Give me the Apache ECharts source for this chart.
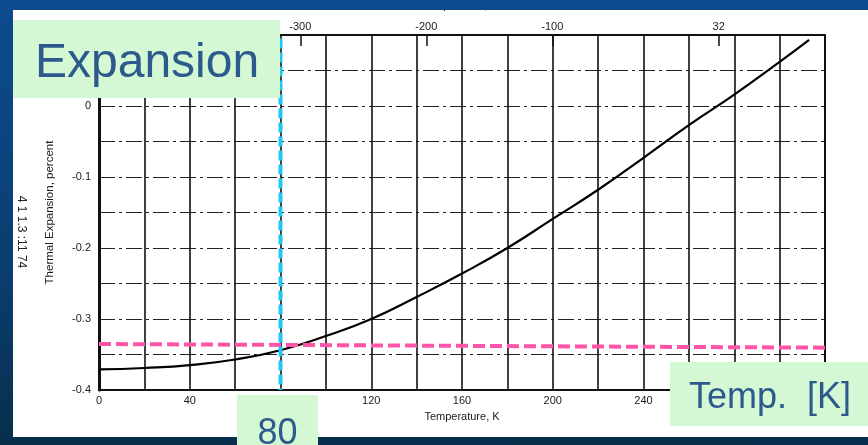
<!DOCTYPE html>
<html>
<head>
<meta charset="utf-8">
<script src="https://cdn.jsdelivr.net/npm/echarts@6/dist/echarts.min.js"></script>
<style>
  html, body { margin: 0; padding: 0; width: 868px; height: 445px; overflow: hidden; }
  body {
    background: linear-gradient(to bottom, #0d4b8f 0%, #0b4580 30%, #0a3c6c 65%, #072f4c 100%);
    position: relative;
  }
  #chart { position: absolute; left: 13px; top: 10px; width: 855px; height: 435px; }
</style>
</head>
<body>
<div id="chart"></div>
<script>
// Thermal expansion curve (percent) against temperature (K)
const tempK = [0, 20, 40, 60, 80, 100, 120, 140, 160, 180, 200, 220, 240, 260, 280, 300, 313];
const expansionPct = [-0.371, -0.369, -0.365, -0.357, -0.344, -0.324, -0.300, -0.269, -0.236, -0.200, -0.159, -0.118, -0.073, -0.027, 0.016, 0.062, 0.093];

// Tick labels
const kelvinLabels = [0, 40, 80, 120, 160, 200, 240, 280, 320];
const percentLabels = [0, -0.1, -0.2, -0.3, -0.4];
const fahrenheitLabels = [-300, -200, -100, 32];

// Highlighted marker temperature and reference expansion level
const markerK = [80, 80];
const markerPct = [0.095, -0.4];
const levelK = [0, 320];
const levelPct = [-0.3352, -0.3404];

// Annotation captions
const captionY = 'Expansion';
const captionX = 'Temp.  [K]';
const captionMarker = '80';

const kToF = k => k * 9 / 5 - 459.67;

const chart = echarts.init(document.getElementById('chart'), null, { renderer: 'canvas' });

const axisFont = { color: '#1a1a1a', fontSize: 11, fontFamily: 'Liberation Sans' };

chart.setOption({
  backgroundColor: 'transparent',
  animation: false,
  grid: {
    left: 86, top: 25, right: 43, bottom: 55,
    outerBoundsMode: 'none', containLabel: false,
    show: true, borderColor: '#111', borderWidth: 2, backgroundColor: 'transparent'
  },
  xAxis: [
    {
      type: 'value', position: 'bottom', min: 0, max: 320, interval: 20,
      axisLine: { show: true, onZero: false, lineStyle: { color: '#111', width: 2 } },
      axisTick: { show: false },
      axisLabel: Object.assign({ customValues: kelvinLabels, margin: 5 }, axisFont),
      splitLine: { show: true, lineStyle: { color: '#111', width: 1.6 } },
      name: 'Temperature, K', nameLocation: 'middle', nameGap: 21,
      nameTextStyle: { color: '#1a1a1a', fontSize: 11, fontFamily: 'Liberation Sans' }
    },
    {
      type: 'value', position: 'top', min: kToF(0), max: kToF(320),
      axisLine: { show: true, onZero: false, lineStyle: { color: '#111', width: 2 } },
      axisTick: { show: true, inside: true, length: 11, customValues: fahrenheitLabels,
                  lineStyle: { color: '#111', width: 1.5 } },
      axisLabel: Object.assign({ customValues: fahrenheitLabels, margin: 3 }, axisFont),
      splitLine: { show: false },
      name: 'Temperature, °F', nameLocation: 'middle', nameGap: 24,
      nameTextStyle: { color: '#1a1a1a', fontSize: 11, fontFamily: 'Liberation Sans' }
    }
  ],
  yAxis: {
    type: 'value', min: -0.4, max: 0.1, interval: 0.05,
    axisLine: { show: true, onZero: false, lineStyle: { color: '#111', width: 3 } },
    axisTick: { show: false },
    axisLabel: Object.assign({
      customValues: percentLabels, margin: 8,
      formatter: v => (Math.abs(v) < 1e-9 ? '0' : v.toFixed(1))
    }, axisFont),
    splitLine: { show: true, lineStyle: { color: '#222', width: 1.2, type: [16, 4, 3, 4] } },
    name: 'Thermal Expansion, percent', nameLocation: 'middle', nameGap: 43, nameRotate: 90,
    nameTextStyle: { color: '#1a1a1a', fontSize: 11.5, fontFamily: 'Liberation Sans' }
  },
  series: [
    {
      type: 'line', xAxisIndex: 0,
      data: tempK.map((k, i) => [k, expansionPct[i]]),
      smooth: 0.5, symbol: 'none',
      lineStyle: { color: '#000', width: 2.2 }, z: 5
    },
    {
      type: 'line', xAxisIndex: 0,
      data: levelK.map((k, i) => [k, levelPct[i]]),
      symbol: 'none',
      lineStyle: { color: '#ff55a8', width: 4, type: [12, 5] }, z: 6
    },
    {
      type: 'line', xAxisIndex: 0,
      data: markerK.map((k, i) => [k, markerPct[i]]),
      symbol: 'none',
      lineStyle: { color: '#1fc8f2', width: 4, type: [10, 4] }, z: 7
    }
  ],
  graphic: [
    // white sheet behind the plot
    { type: 'rect', shape: { x: 0, y: 0, width: 855, height: 427 }, style: { fill: '#ffffff' }, z: -10, silent: true },
    // scan reference text along the left margin
    { type: 'text', x: 8, y: 222, rotation: -Math.PI / 2,
      style: { text: '4 1 1.3 :11 74', fill: '#222', font: '12px "Liberation Sans"', align: 'center', verticalAlign: 'middle' }, z: 50 },
    // caption boxes
    { type: 'rect', shape: { x: 0, y: 10, width: 267, height: 78 }, style: { fill: '#d3f8d3' }, z: 100 },
    { type: 'text', x: 22, y: 54, style: { text: captionY, fill: '#2d5a8c', font: '48px "Liberation Sans"', verticalAlign: 'middle' }, z: 101 },
    { type: 'rect', shape: { x: 224, y: 385, width: 81, height: 50 }, style: { fill: '#d3f8d3' }, z: 100 },
    { type: 'text', x: 264.5, y: 424, style: { text: captionMarker, fill: '#2d5a8c', font: '36px "Liberation Sans"', align: 'center', verticalAlign: 'middle' }, z: 101 },
    { type: 'rect', shape: { x: 657, y: 352, width: 198, height: 64 }, style: { fill: '#d3f8d3' }, z: 100 },
    { type: 'text', x: 676, y: 388, style: { text: captionX, fill: '#2d5a8c', font: '36px "Liberation Sans"', verticalAlign: 'middle' }, z: 101 }
  ]
});
</script>
</body>
</html>
